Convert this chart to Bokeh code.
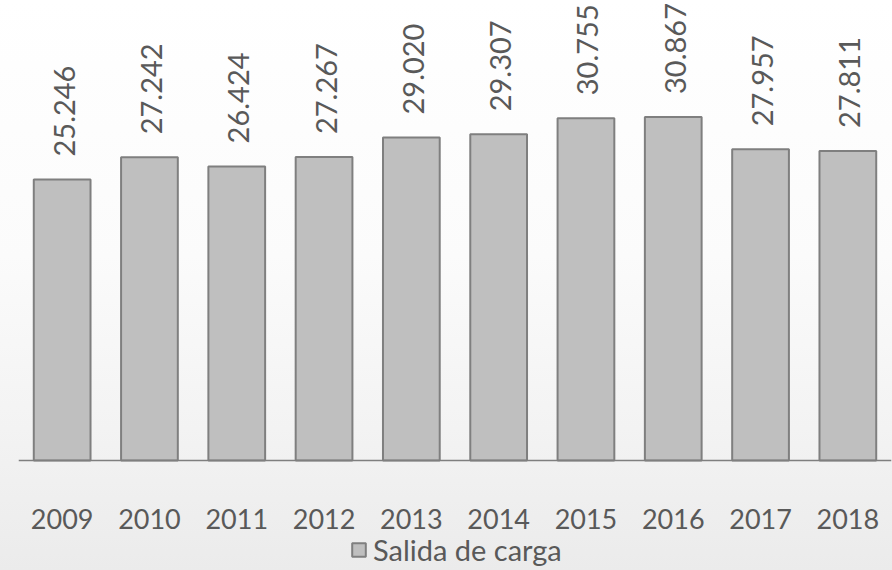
from bokeh.plotting import figure
from bokeh.models import Range1d, Legend, LegendItem, ColumnDataSource
from bokeh.core.properties import value
from bokeh.embed import file_html
from bokeh.resources import INLINE
import math

years = ["2009", "2010", "2011", "2012", "2013", "2014", "2015", "2016", "2017", "2018"]
salida = [25.246, 27.242, 26.424, 27.267, 29.020, 29.307, 30.755, 30.867, 27.957, 27.811]
labels = ["25.246", "27.242", "26.424", "27.267", "29.020", "29.307", "30.755", "30.867", "27.957", "27.811"]
series_name = "Salida de carga"

FONT = "Lato"
TXT = "#595959"

src = ColumnDataSource(dict(x=years, y=salida, lab=labels))

p = figure(width=892, height=570, x_range=years, y_range=Range1d(-9.883, 41.33),
           output_backend="svg", toolbar_location=None, y_axis_location=None,
           min_border_left=18, min_border_right=1, min_border_top=0, min_border_bottom=0,
           styles={"background": "linear-gradient(to bottom, #ffffff 0%, #fbfbfb 45%, #f3f3f3 75%, #ebebeb 100%)"})
p.background_fill_alpha = 0
p.border_fill_alpha = 0
p.outline_line_color = None
p.xgrid.visible = False
p.ygrid.visible = False
p.x_range.range_padding = 0

r = p.vbar(x="x", top="y", bottom=0, width=0.65, source=src, fill_color="#bfbfbf",
           line_color="#7f7f7f", line_width=2)

p.text(x="x", y="y", text="lab", source=src, angle=math.pi / 2,
       text_align="left", text_baseline="middle", x_offset=2, y_offset=-23,
       text_font=value(FONT), text_font_size="29px", text_color=TXT)

ax = p.xaxis[0]
ax.fixed_location = 0
ax.axis_line_color = "#7f7f7f"
ax.axis_line_width = 1.5
ax.major_tick_line_color = None
ax.minor_tick_line_color = None
ax.major_label_standoff = 42
ax.major_label_text_font = FONT
ax.major_label_text_font_size = "27px"
ax.major_label_text_color = TXT

legend = Legend(items=[LegendItem(label=series_name, renderers=[r])],
                location=(332, 3), orientation="horizontal",
                glyph_width=17, glyph_height=17, label_standoff=6,
                label_text_font=FONT, label_text_font_size="29px", label_text_color=TXT,
                padding=0, margin=0, border_line_alpha=0, background_fill_alpha=0)
p.add_layout(legend, "center")

open("out.html", "w").write(file_html(p, INLINE))
